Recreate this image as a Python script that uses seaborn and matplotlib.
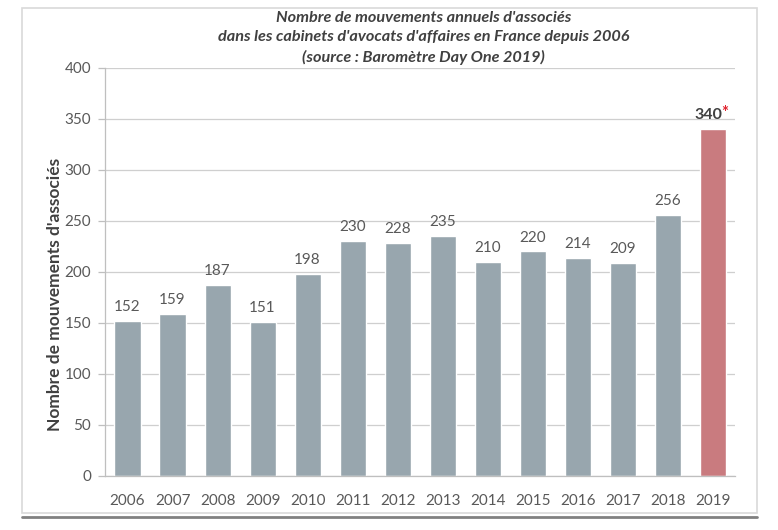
import matplotlib
matplotlib.use("Agg")
import matplotlib.pyplot as plt
import seaborn as sns
import pandas as pd
from matplotlib.patches import Rectangle
from matplotlib.lines import Line2D

years = ["2006", "2007", "2008", "2009", "2010", "2011", "2012", "2013",
         "2014", "2015", "2016", "2017", "2018", "2019"]
values = [152, 159, 187, 151, 198, 230, 228, 235, 210, 220, 214, 209, 256, 340]
title_lines = ["Nombre de mouvements annuels d'associés",
               "dans les cabinets d'avocats d'affaires en France depuis 2006",
               "(source : Baromètre Day One 2019)"]
ylabel = "Nombre de mouvements d'associés"
yticks = [0, 50, 100, 150, 200, 250, 300, 350, 400]

grey = "#98A6AE"
red = "#C97B7F"
colors = [grey] * (len(years) - 1) + [red]

sns.set_theme(style="white")
plt.rcParams['font.family'] = ['Lato', 'DejaVu Sans']

df = pd.DataFrame({"year": years, "value": values})

fig = plt.figure(figsize=(7.78, 5.30), dpi=100)
ax = fig.add_axes([0.135, 0.102, 0.810, 0.770])

sns.barplot(data=df, x="year", y="value", hue="year", palette=colors,
            legend=False, width=0.58, ax=ax, zorder=2, saturation=1)

ax.set_xlim(-0.5, len(years) - 0.5)
ax.set_ylim(0, 400)
ax.set_yticks(yticks)
ax.yaxis.grid(True, color="#CFCFCF", linewidth=0.9, zorder=0)
ax.xaxis.grid(False)
ax.set_axisbelow(True)

for s in ["top", "right"]:
    ax.spines[s].set_visible(False)
ax.spines["left"].set_color("#BFBFBF")
ax.spines["bottom"].set_color("#BFBFBF")
ax.spines["left"].set_linewidth(0.9)
ax.spines["bottom"].set_linewidth(0.9)

ax.tick_params(axis="y", which="both", left=True, length=5, width=0.9,
               color="#BFBFBF", labelsize=11, labelcolor="#595959", pad=5)
ax.tick_params(axis="x", bottom=False, labelsize=11, labelcolor="#595959", pad=7)

ax.set_xlabel("")
ax.set_ylabel("")
fig.text(55 / 778, 1 - 294 / 530, ylabel, rotation=90, ha="center", va="center",
         fontsize=12.5, fontweight="bold", color="#404040")

for i, v in enumerate(values):
    if i == len(values) - 1:
        ax.annotate(str(v), (i, v), xytext=(-3, 5), textcoords="offset points",
                    ha="center", va="bottom", fontsize=11.5, fontweight="bold",
                    color="#404040", zorder=3)
        ax.annotate("*", (i, v), xytext=(8.5, 6), textcoords="offset points",
                    ha="center", va="bottom", fontsize=12, fontweight="bold",
                    color="#E0202B", zorder=3)
    else:
        ax.annotate(str(v), (i, v), xytext=(0, 5), textcoords="offset points",
                    ha="center", va="bottom", fontsize=11, color="#595959", zorder=3)

for k, line in enumerate(title_lines):
    fig.text(0.544, 1 - (18 + 19.5 * k) / 530, line, ha="center", va="center",
             fontsize=11.7, fontweight="bold", fontstyle="italic", color="#404040")

# outer frame
fig.patches.append(Rectangle((22 / 778, 1 - 513 / 530), (757 - 22) / 778, (513 - 8) / 530,
                             transform=fig.transFigure, fill=False,
                             edgecolor="#D9D9D9", linewidth=1.2))
fig.lines.append(Line2D([22 / 778, 757 / 778], [1 - 517 / 530, 1 - 517 / 530],
                        transform=fig.transFigure, color="#808080", linewidth=2))

fig.savefig("out.png", dpi=100)
